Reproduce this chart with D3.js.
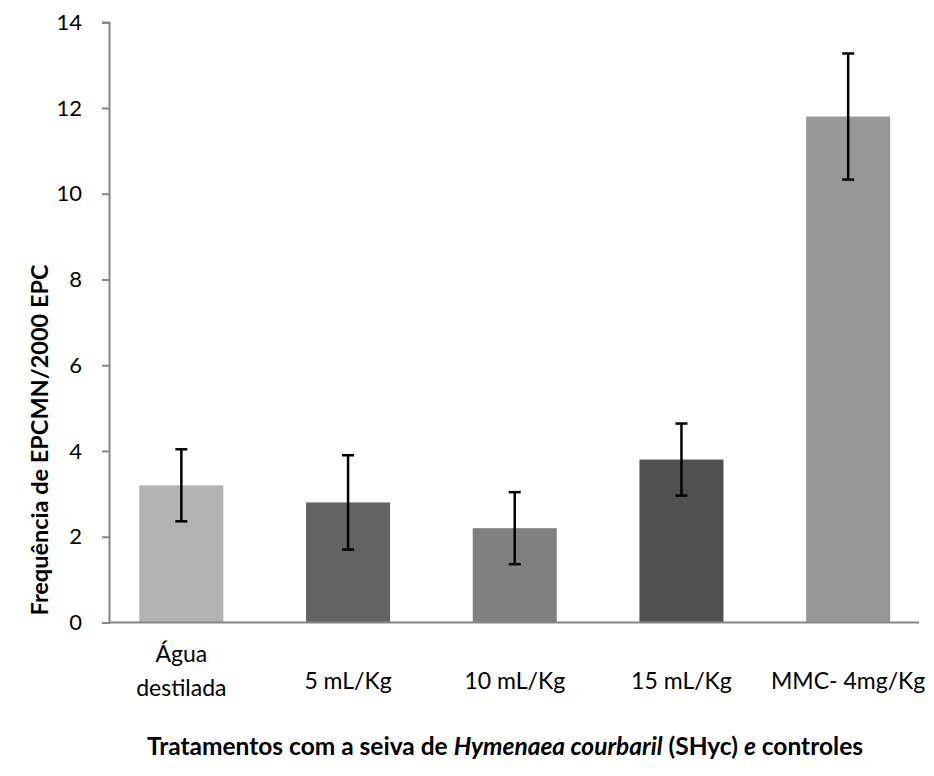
<!DOCTYPE html>
<html>
<head>
<meta charset="utf-8">
<script src="https://cdn.jsdelivr.net/npm/d3@7"></script>
<style>
  body { margin: 0; background: #fff; }
  text { font-family: Lato, "Open Sans", sans-serif; fill: #000; }
</style>
</head>
<body>
<div id="chart"></div>
<script>
// data
const categories = ["Água destilada", "5 mL/Kg", "10 mL/Kg", "15 mL/Kg", "MMC- 4mg/Kg"];
const labelLines = [["Água", "destilada"], ["5 mL/Kg"], ["10 mL/Kg"], ["15 mL/Kg"], ["MMC- 4mg/Kg"]];
const values = [3.2, 2.8, 2.2, 3.8, 11.8];
const errors = [0.84, 1.1, 0.84, 0.84, 1.47];
const barColors = ["#b3b3b3", "#636363", "#808080", "#505050", "#979797"];
const yTicks = [0, 2, 4, 6, 8, 10, 12, 14];

const W = 934, H = 776;
const AXIS_X = 109, AXIS_RIGHT = 919;
const BASE_Y = 622.5, TOP_Y = 22.2;

const svg = d3.select("#chart").append("svg")
  .attr("width", W)
  .attr("height", H);

const x = d3.scaleBand()
  .domain(categories)
  .range([98, 931.5])
  .paddingInner(0.496)
  .paddingOuter(0.248);

const y = d3.scaleLinear()
  .domain([0, 14])
  .range([BASE_Y, TOP_Y]);

// y axis
const yAxis = d3.axisLeft(y).tickValues(yTicks).tickSize(7).tickPadding(20);
const yg = svg.append("g")
  .attr("transform", "translate(" + AXIS_X + ",0)")
  .call(yAxis);
yg.select(".domain").attr("stroke", "#868686").attr("stroke-width", 2);
yg.selectAll(".tick line").attr("stroke", "#868686").attr("stroke-width", 2);
yg.selectAll(".tick text")
  .style("font-size", "22px")
  .style("font-family", "Lato, 'Open Sans', sans-serif")
  .attr("fill", "#000");

// bars
svg.selectAll(".bar")
  .data(values)
  .enter()
  .append("rect")
  .attr("class", "bar")
  .attr("x", (d, i) => x(categories[i]))
  .attr("width", x.bandwidth())
  .attr("y", d => y(d))
  .attr("height", d => y(0) - y(d))
  .attr("fill", (d, i) => barColors[i]);

// x axis baseline
svg.append("line")
  .attr("x1", AXIS_X)
  .attr("x2", AXIS_RIGHT)
  .attr("y1", y(0))
  .attr("y2", y(0))
  .attr("stroke", "#868686")
  .attr("stroke-width", 2);

// error bars
const eb = svg.selectAll(".err")
  .data(values)
  .enter()
  .append("g")
  .attr("class", "err")
  .attr("transform", (d, i) => "translate(" + (x(categories[i]) + x.bandwidth() / 2) + ",0)");
eb.append("line")
  .attr("y1", (d, i) => y(d + errors[i]))
  .attr("y2", (d, i) => y(d - errors[i]))
  .attr("stroke", "#000").attr("stroke-width", 2.5);
eb.append("line")
  .attr("x1", -6).attr("x2", 6)
  .attr("y1", (d, i) => y(d + errors[i]))
  .attr("y2", (d, i) => y(d + errors[i]))
  .attr("stroke", "#000").attr("stroke-width", 2.5);
eb.append("line")
  .attr("x1", -6).attr("x2", 6)
  .attr("y1", (d, i) => y(d - errors[i]))
  .attr("y2", (d, i) => y(d - errors[i]))
  .attr("stroke", "#000").attr("stroke-width", 2.5);

// category labels
const lab = svg.selectAll(".cat")
  .data(labelLines)
  .enter()
  .append("text")
  .attr("class", "cat")
  .attr("text-anchor", "middle")
  .style("font-size", "23px")
  .attr("transform", (d, i) => "translate(" + (x(categories[i]) + x.bandwidth() / 2) + "," + (d.length > 1 ? 662 : 689) + ")");
lab.selectAll("tspan")
  .data(d => d)
  .enter()
  .append("tspan")
  .attr("x", 0)
  .attr("dy", (d, i) => i === 0 ? 0 : 34)
  .text(d => d);

// y title
svg.append("text")
  .attr("transform", "translate(48,440) rotate(-90)")
  .attr("text-anchor", "middle")
  .style("font-size", "23.5px")
  .style("font-weight", "bold")
  .text("Frequência de EPCMN/2000 EPC");

// x title
const xt = svg.append("text")
  .attr("x", 505)
  .attr("y", 755)
  .attr("text-anchor", "middle")
  .style("font-size", "24.5px")
  .style("font-weight", "bold");
xt.append("tspan").text("Tratamentos com a seiva de ");
xt.append("tspan").style("font-style", "italic").text("Hymenaea courbaril");
xt.append("tspan").text("  (SHyc) ");
xt.append("tspan").style("font-style", "italic").text("e");
xt.append("tspan").text(" controles");
</script>
</body>
</html>
